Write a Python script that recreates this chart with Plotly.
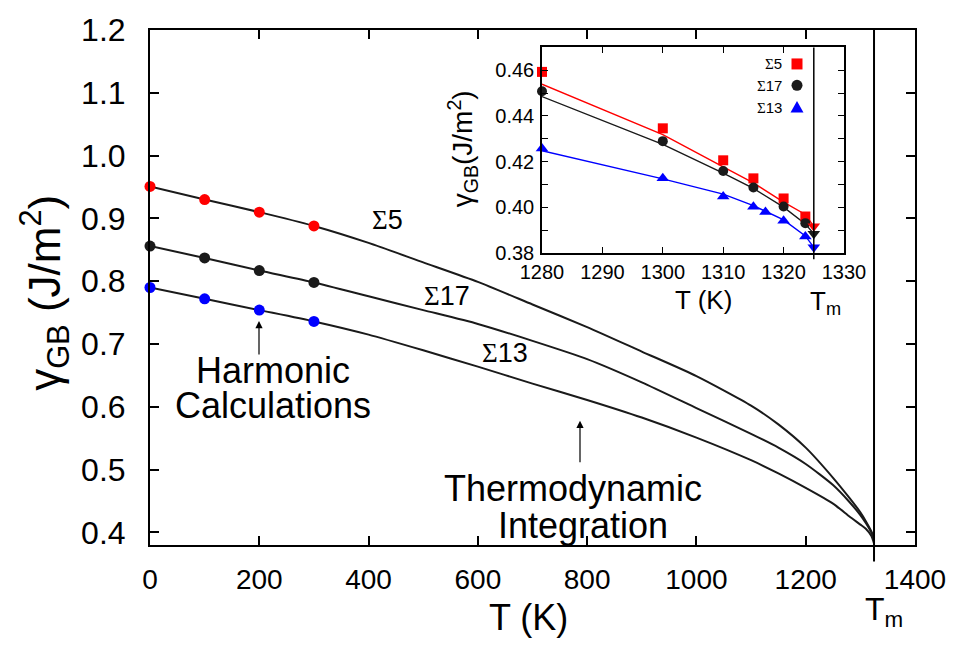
import plotly.graph_objects as go

# ---------------- data ----------------
T_harm = [0, 100, 200, 300]
s5_harm = [0.951, 0.930, 0.910, 0.888]
s17_harm = [0.856, 0.837, 0.817, 0.798]
s13_harm = [0.790, 0.772, 0.754, 0.736]

T_ti = [0, 100, 200, 300, 400, 500, 600, 700, 800, 900, 1000, 1100, 1150, 1200, 1250,
        1280, 1300, 1310, 1320, 1325]
s5_ti = [0.951, 0.930, 0.910, 0.888, 0.861, 0.830, 0.799, 0.763, 0.727, 0.688, 0.649,
         0.602, 0.572, 0.535, 0.487, 0.455, 0.432, 0.418, 0.402, 0.3917]
s17_ti = [0.856, 0.837, 0.817, 0.798, 0.776, 0.754, 0.732, 0.705, 0.676, 0.639, 0.598,
          0.557, 0.535, 0.509, 0.4755, 0.4485, 0.4276, 0.415, 0.400, 0.3885]
s13_ti = [0.790, 0.772, 0.754, 0.736, 0.715, 0.690, 0.664, 0.637, 0.611, 0.583, 0.551,
          0.515, 0.494, 0.471, 0.446, 0.4255, 0.4125, 0.4058, 0.3945, 0.3825]

T_melt = 1325

# inset (MD points near Tm)
T_in = [1280, 1300, 1310, 1315, 1320, 1323.6]
s5_in = [0.4593, 0.4346, 0.4206, 0.4127, 0.4039, 0.3960]
s17_in = [0.4508, 0.4290, 0.4159, 0.4087, 0.4004, 0.3931]
T_in13 = [1280, 1300, 1310, 1315, 1317, 1320, 1323.6]
s13_in = [0.4258, 0.4128, 0.4048, 0.4003, 0.3980, 0.3942, 0.3872]
tm_vals = [0.3917, 0.3885, 0.3825]  # Σ5, Σ17, Σ13 at Tm

T_fit = [1280, 1300, 1310, 1315, 1320, 1323.6, 1325]
s5_fit = [0.4539, 0.4318, 0.4177, 0.4107, 0.4023, 0.3969, 0.3917]
s17_fit = [0.4485, 0.4276, 0.4150, 0.4083, 0.4001, 0.3927, 0.3885]
s13_fit = [0.4248, 0.4125, 0.4058, 0.4008, 0.3945, 0.3875, 0.3825]

main_xticks = [0, 200, 400, 600, 800, 1000, 1200, 1400]
main_yticks = [0.4, 0.5, 0.6, 0.7, 0.8, 0.9, 1.0, 1.1, 1.2]
inset_xticks = [1280, 1290, 1300, 1310, 1320, 1330]
inset_yticks = [0.38, 0.39, 0.40, 0.41, 0.42, 0.43, 0.44, 0.45, 0.46, 0.47]
inset_yticktext = ["0.38", "", "0.40", "", "0.42", "", "0.44", "", "0.46", ""]

RED = "#ff0000"
BLK = "#1a1a1a"
BLU = "#0000ff"
FONT = "Liberation Sans, Arial, Helvetica, sans-serif"
SIG = '<span style="font-family:Liberation Serif">Σ</span>'

W, H = 959, 651
L, R, T, B = 150, 44, 14, 106
PW, PH = W - L - R, H - T - B


def P(px, py):
    return (px - L) / PW, (H - B - py) / PH


fig = go.Figure()

# main TI curves
for ys in (s5_ti, s17_ti, s13_ti):
    fig.add_trace(go.Scatter(x=T_ti, y=ys, mode="lines",
                             line=dict(color=BLK, width=2, shape="spline", smoothing=0.6),
                             hoverinfo="skip", showlegend=False, xaxis="x", yaxis="y"))
# harmonic points
for ys, c in ((s5_harm, RED), (s17_harm, BLK), (s13_harm, BLU)):
    fig.add_trace(go.Scatter(x=T_harm, y=ys, mode="markers",
                             marker=dict(color=c, size=11, symbol="circle"),
                             showlegend=False, xaxis="x", yaxis="y", cliponaxis=False))

# inset fitted lines
for ys, c in ((s5_fit, RED), (s17_fit, BLK), (s13_fit, BLU)):
    fig.add_trace(go.Scatter(x=T_fit, y=ys, mode="lines", line=dict(color=c, width=1.4),
                             showlegend=False, xaxis="x2", yaxis="y2"))
# inset points
fig.add_trace(go.Scatter(x=T_in, y=s5_in, mode="markers",
                         marker=dict(color=RED, size=10, symbol="square"),
                         showlegend=False, xaxis="x2", yaxis="y2", cliponaxis=False))
fig.add_trace(go.Scatter(x=T_in, y=s17_in, mode="markers",
                         marker=dict(color=BLK, size=10, symbol="circle"),
                         showlegend=False, xaxis="x2", yaxis="y2", cliponaxis=False))
fig.add_trace(go.Scatter(x=T_in13, y=s13_in, mode="markers",
                         marker=dict(color=BLU, size=11, symbol="triangle-up"),
                         showlegend=False, xaxis="x2", yaxis="y2", cliponaxis=False))
fig.add_trace(go.Scatter(x=[T_melt] * 3, y=tm_vals, mode="markers",
                         marker=dict(color=[RED, BLK, BLU], size=11, symbol="triangle-down"),
                         showlegend=False, xaxis="x2", yaxis="y2", cliponaxis=False))

ax_common = dict(showline=True, linecolor="black", mirror="allticks", ticks="inside",
                 showgrid=False, zeroline=False, tickcolor="black",
                 ticklabeloverflow="allow")

fig.update_layout(
    width=W, height=H, margin=dict(l=L, r=R, t=T, b=B),
    paper_bgcolor="white", plot_bgcolor="white",
    font=dict(family=FONT, color="black"),
    xaxis=dict(**ax_common, range=[0, 1400], tickvals=main_xticks, ticklen=9, linewidth=2,
               tickwidth=1.5, tickfont=dict(size=28), ticklabelstandoff=8,
               domain=[0, 1], anchor="y"),
    yaxis=dict(**ax_common, range=[0.38, 1.2], tickvals=main_yticks, tickformat=".1f",
               ticklen=9, linewidth=2, tickwidth=1.5, tickfont=dict(size=32),
               ticklabelstandoff=16, domain=[0, 1], anchor="x"),
    xaxis2=dict(**ax_common, range=[1280, 1330], tickvals=inset_xticks, ticklen=6,
                linewidth=1.5, tickwidth=1, tickfont=dict(size=20), ticklabelstandoff=0,
                domain=[(542 - L) / PW, (844 - L) / PW], anchor="y2"),
    yaxis2=dict(**ax_common, range=[0.38, 0.47], tickvals=inset_yticks, ticktext=inset_yticktext,
                ticklen=6, linewidth=1.5, tickwidth=1, tickfont=dict(size=20), ticklabelstandoff=2,
                domain=[(H - B - 244) / PH, (H - B - 32) / PH], anchor="x2"),
)

shapes = []
# main Tm line (extends below the axis)
shapes.append(dict(type="line", xref="x", yref="paper", x0=T_melt, x1=T_melt,
                   y0=-17 / PH, y1=1, line=dict(color="black", width=2)))
# inset Tm line
shapes.append(dict(type="line", xref="x2", yref="y2 domain", x0=T_melt, x1=T_melt,
                   y0=-0.03, y1=1, line=dict(color="black", width=1.5)))
# inset legend keys
lx, _ = P(797, 0)
for py, kind, col in ((49, "square", RED), (71, "circle", BLK), (94, "tri", BLU)):
    _, ly = P(0, py)
    if kind == "square":
        shapes.append(dict(type="rect", xref="paper", yref="paper", xsizemode="pixel",
                           ysizemode="pixel", xanchor=lx, yanchor=ly, x0=-5.5, x1=5.5,
                           y0=-5.5, y1=5.5, fillcolor=col, line=dict(width=0)))
    elif kind == "circle":
        shapes.append(dict(type="circle", xref="paper", yref="paper", xsizemode="pixel",
                           ysizemode="pixel", xanchor=lx, yanchor=ly, x0=-5.5, x1=5.5,
                           y0=-5.5, y1=5.5, fillcolor=col, line=dict(width=0)))
    else:
        shapes.append(dict(type="path", xref="paper", yref="paper", xsizemode="pixel",
                           ysizemode="pixel", xanchor=lx, yanchor=ly,
                           path="M -6.5,-5 L 6.5,-5 L 0,6.5 Z", fillcolor=col,
                           line=dict(width=0)))
fig.update_layout(shapes=shapes)

ann = []


def text(px, py, s, size, family=FONT, xanchor="center", angle=0):
    x, y = P(px, py)
    ann.append(dict(x=x, y=y, xref="paper", yref="paper", text=s, showarrow=False,
                    xanchor=xanchor, yanchor="middle", textangle=angle,
                    font=dict(size=size, family=family, color="black")))


# axis titles
text(528, 620, "T (K)", 36)
text(45, 285, "γ<sub>GB</sub> (J/m<sup>2</sup>)", 44, angle=-90)
text(863, 614, "T<sub>m</sub>", 32, xanchor="left")
# inset axis titles
text(703, 292, "T (K)", 26)
text(808, 295, "T<sub>m</sub>", 26, xanchor="left")
text(463, 137, "γ<sub>GB</sub>(J/m<sup>2</sup>)", 28, angle=-90)
# curve labels
text(387, 210, SIG + "5", 27)
text(447, 288, SIG + "17", 27)
text(505, 347, SIG + "13", 27)
# inset legend labels
for py, lab in ((49, "5"), (71, "17"), (94, "13")):
    text(784, py, SIG + lab, 15, xanchor="right")
# annotations
text(273, 365, "Harmonic", 36)
text(273, 401, "Calculations", 36)
text(573, 487, "Thermodynamic", 36)
text(583, 525, "Integration", 36)

# arrows
for (hx, hy, tx, ty) in ((259, 314, 259, 349), (580, 417, 580, 460)):
    x, y = P(hx, hy)
    ann.append(dict(x=x, y=y, xref="paper", yref="paper", ax=tx - hx, ay=ty - hy,
                    axref="pixel", ayref="pixel", text="", showarrow=True,
                    arrowhead=2, arrowsize=1.2, arrowwidth=1.2, arrowcolor="black"))

fig.update_layout(annotations=ann)
fig.write_html("out.html")
